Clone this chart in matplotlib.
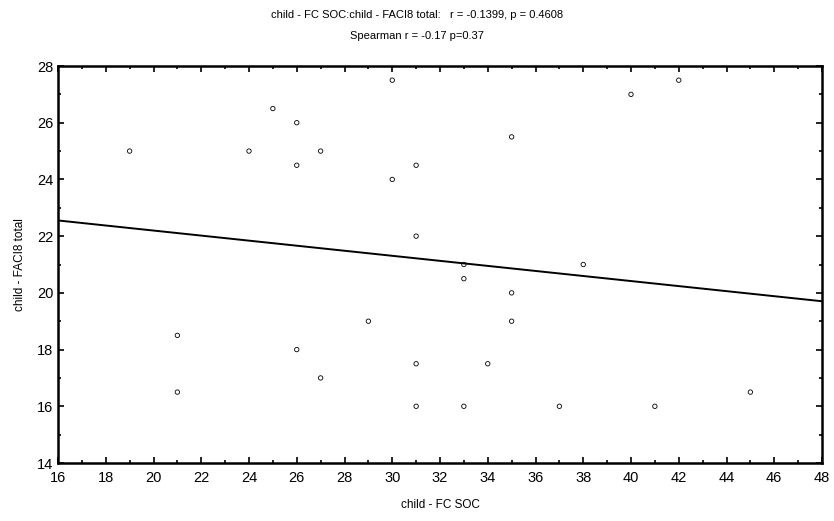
import matplotlib
matplotlib.use("Agg")
import matplotlib.pyplot as plt
import numpy as np
from matplotlib.ticker import MultipleLocator

# child - FC SOC vs child - FACI8 total
fc_soc = [19, 21, 21, 24, 25, 26, 26, 26, 27, 27, 29, 30, 30, 31, 31, 31, 31,
          33, 33, 33, 34, 35, 35, 35, 37, 38, 40, 41, 42, 45]
faci8_total = [25, 18.5, 16.5, 25, 26.5, 26, 24.5, 18, 25, 17, 19, 27.5, 24, 24.5, 22, 17.5, 16,
               21, 20.5, 16, 17.5, 25.5, 20, 19, 16, 21, 27, 16, 27.5, 16.5]

x_ticks = list(range(16, 49, 2))
y_ticks = list(range(14, 29, 2))

plt.rcParams['font.family'] = ['Liberation Sans', 'DejaVu Sans']

fig = plt.figure(figsize=(8.34, 5.21), dpi=100, facecolor="white")
ax = fig.add_axes([58 / 834, 1 - 463 / 521, (822 - 58) / 834, (463 - 66) / 521])

ax.scatter(fc_soc, faci8_total, s=10, facecolors="none", edgecolors="black", linewidths=0.6)

# least squares line across the full x range
slope, intercept = np.polyfit(fc_soc, faci8_total, 1)
xs = np.array([16, 48])
ax.plot(xs, slope * xs + intercept, color="black", lw=1.4)

ax.set_xlim(16, 48)
ax.set_ylim(14, 28)
ax.set_xticks(x_ticks)
ax.set_yticks(y_ticks)
ax.xaxis.set_minor_locator(MultipleLocator(1))
ax.yaxis.set_minor_locator(MultipleLocator(1))
ax.tick_params(which="both", direction="in", top=True, right=True, width=1.2, labelsize=10.5)
ax.tick_params(which="major", length=4)
ax.tick_params(which="minor", length=2)
ax.tick_params(axis="x", pad=6)
for s in ax.spines.values():
    s.set_linewidth(1.8)

ax.set_xlabel("child - FC SOC", fontsize=8.5, labelpad=10)
ax.set_ylabel("child - FACI8 total", fontsize=8.5, labelpad=8)

fig.text(0.5, 1 - 15 / 521, "child - FC SOC:child - FACI8 total:   r = -0.1399, p = 0.4608",
         ha="center", va="center", fontsize=8)
fig.text(0.5, 1 - 36 / 521, "Spearman r = -0.17 p=0.37", ha="center", va="center", fontsize=8)

fig.savefig("out.png", dpi=100)
